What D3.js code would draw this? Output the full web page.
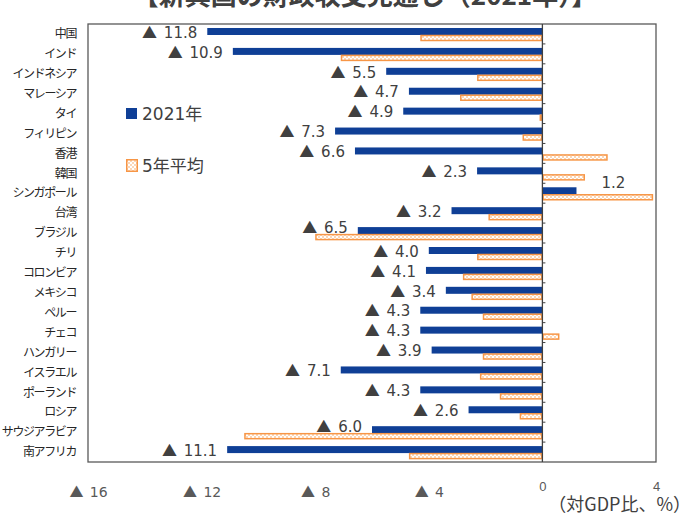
<!DOCTYPE html>
<html>
<head>
<meta charset="utf-8">
<script src="https://cdn.jsdelivr.net/npm/d3@7"></script>
<style>
  body { margin: 0; background: #fff; }
  svg { display: block; }
  text { font-family: "DejaVu Sans", "Noto Sans CJK JP", sans-serif; }
</style>
</head>
<body>
<div id="chart"></div>
<script>
// data
const categories = ["中国","インド","インドネシア","マレーシア","タイ","フィリピン","香港","韓国","シンガポール","台湾","ブラジル","チリ","コロンビア","メキシコ","ペルー","チェコ","ハンガリー","イスラエル","ポーランド","ロシア","サウジアラビア","南アフリカ"];
const values2021 = [-11.8,-10.9,-5.5,-4.7,-4.9,-7.3,-6.6,-2.3,1.2,-3.2,-6.5,-4.0,-4.1,-3.4,-4.3,-4.3,-3.9,-7.1,-4.3,-2.6,-6.0,-11.1];
const avg5 = [-4.3,-7.1,-2.3,-2.9,-0.1,-0.7,2.3,1.5,3.9,-1.9,-8.0,-2.3,-2.8,-2.5,-2.1,0.6,-2.1,-2.2,-1.5,-0.8,-10.5,-4.7];
const seriesNames = ["2021年","5年平均"];
const tickValues = [-16,-12,-8,-4,0,4];
const title = "【新興国の財政収支見通し（2021年）】";
const unitLabel = "（対GDP比、%）";

const width = 693, height = 515;
const margin = {top: 24, right: 37, bottom: 53, left: 88};
const blue = "#0f3f96", orange = "#f79646", textCol = "#404040";
const cjk = "'Noto Sans CJK JP', sans-serif";

const svg = d3.select("#chart").append("svg")
  .attr("width", width).attr("height", height);

// dotted fill for the 5-year average bars
const pat = svg.append("defs").append("pattern")
  .attr("id", "dots").attr("width", 4).attr("height", 4)
  .attr("patternUnits", "userSpaceOnUse");
pat.append("rect").attr("width", 4).attr("height", 4).attr("fill", "#fbd7b8");
pat.append("rect").attr("width", 2).attr("height", 2).attr("fill", "#fff");
pat.append("rect").attr("x", 2).attr("y", 2).attr("width", 2).attr("height", 2).attr("fill", "#fff");

const x = d3.scaleLinear().domain([-16, 4]).range([margin.left, width - margin.right]);
const y = d3.scaleBand().domain(categories).range([margin.top, height - margin.bottom]);
const bw = y.bandwidth();

// writes "▲ n" with a big triangle (CJK glyph) and the number in DejaVu
function negLabel(sel, num) {
  sel.append("tspan").style("font-family", cjk).text("▲");
  sel.append("tspan").attr("dx", 2).text(" " + num);
}

//title (cut off at the top like the original)
svg.append("text")
   .attr("x", 365).attr("y", 5)
   .attr("text-anchor", "middle")
   .style("font-family", cjk)
   .style("font-weight", "bold")
   .style("font-size", "26px")
   .style("fill", "#404040")
   .text(title);

// frame
svg.append("rect")
   .attr("x", margin.left).attr("y", margin.top)
   .attr("width", x.range()[1] - margin.left)
   .attr("height", y.range()[1] - margin.top)
   .attr("fill", "none").attr("stroke", "#595959").attr("stroke-width", 1.3);

const rows = categories.map((c, i) => ({c, v: values2021[i], a: avg5[i]}));

// 2021 bars
svg.append("g").selectAll("rect")
   .data(rows).enter().append("rect")
   .attr("x", d => x(Math.min(0, d.v)))
   .attr("y", d => y(d.c) + 4)
   .attr("width", d => Math.abs(x(d.v) - x(0)))
   .attr("height", 7)
   .attr("fill", blue);

// 5-year average bars
svg.append("g").selectAll("rect")
   .data(rows).enter().append("rect")
   .attr("x", d => x(Math.min(0, d.a)) + 0.75)
   .attr("y", d => y(d.c) + 11.5)
   .attr("width", d => Math.max(0.5, Math.abs(x(d.a) - x(0)) - 1.5))
   .attr("height", 5)
   .attr("fill", "url(#dots)")
   .attr("stroke", orange).attr("stroke-width", 1.5);

// zero line + small ticks
svg.append("line")
   .attr("x1", x(0)).attr("x2", x(0))
   .attr("y1", margin.top).attr("y2", y.range()[1])
   .attr("stroke", "#404040").attr("stroke-width", 1.3);
svg.append("g").selectAll("line")
   .data(categories.slice(1)).enter().append("line")
   .attr("x1", x(0)).attr("x2", x(0) + 3)
   .attr("y1", d => y(d)).attr("y2", d => y(d))
   .attr("stroke", "#404040");

// value labels
svg.append("g").selectAll("text")
   .data(rows).enter().append("text")
   .attr("x", d => d.v < 0 ? x(d.v) - 10 : x(d.v) + 25)
   .attr("y", d => {
     let cy = y(d.c) + 8.5;
     if (d.v >= 0) return cy - 9;
     if (d.a < d.v - 1) return cy - 4; // orange bar reaches under the label
     return cy;
   })
   .attr("dy", "0.35em")
   .attr("text-anchor", d => d.v < 0 ? "end" : "start")
   .style("font-size", "15px")
   .style("fill", textCol)
   .each(function(d) {
     const t = d3.select(this);
     if (d.v < 0) negLabel(t, Math.abs(d.v).toFixed(1));
     else t.text(d.v.toFixed(1));
   });

// category labels
svg.append("g").selectAll("text")
   .data(categories).enter().append("text")
   .attr("x", 76)
   .attr("y", d => y(d) + bw / 2)
   .attr("dy", "0.35em")
   .attr("text-anchor", "end")
   .style("font-family", cjk)
   .style("font-size", "12px")
   .style("letter-spacing", "-1.4px")
   .style("fill", "#262626")
   .text(d => d);

// x axis labels
const xAxis = svg.append("g")
  .attr("transform", `translate(0,${y.range()[1]})`)
  .call(d3.axisBottom(x).tickValues(tickValues).tickSize(0).tickFormat(""));
xAxis.select(".domain").remove();
xAxis.selectAll(".tick text")
  .attr("y", 30)
  .attr("dy", "0.35em")
  .style("font-family", "'DejaVu Sans', sans-serif")
  .style("font-size", "14px")
  .style("fill", "#595959")
  .each(function(v) {
    const t = d3.select(this);
    if (v < 0) negLabel(t, Math.abs(v));
    else t.text(String(v));
  });
xAxis.selectAll(".tick text").filter(v => v >= 0)
  .attr("y", 24)
  .style("font-family", "'Liberation Sans', sans-serif")
  .style("font-size", "13px");

svg.append("text")
   .attr("x", 691).attr("y", 505)
   .attr("dy", "0.35em")
   .attr("text-anchor", "end")
   .style("font-family", cjk)
   .style("font-size", "18px")
   .style("fill", textCol)
   .text(unitLabel);

// legend
const legend = svg.append("g");
legend.append("rect").attr("x", 126).attr("y", 108).attr("width", 11).attr("height", 11).attr("fill", blue);
legend.append("rect").attr("x", 126.75).attr("y", 159.75).attr("width", 10.5).attr("height", 11.5)
      .attr("fill", "url(#dots)").attr("stroke", orange).attr("stroke-width", 1.5);
legend.selectAll("text.lg")
      .data(seriesNames).enter().append("text")
      .attr("class", "lg")
      .attr("x", 142)
      .attr("y", (d, i) => i === 0 ? 114 : 166)
      .attr("dy", "0.35em")
      .style("font-size", "17px")
      .style("fill", textCol)
      .text(d => d);
</script>
</body>
</html>
